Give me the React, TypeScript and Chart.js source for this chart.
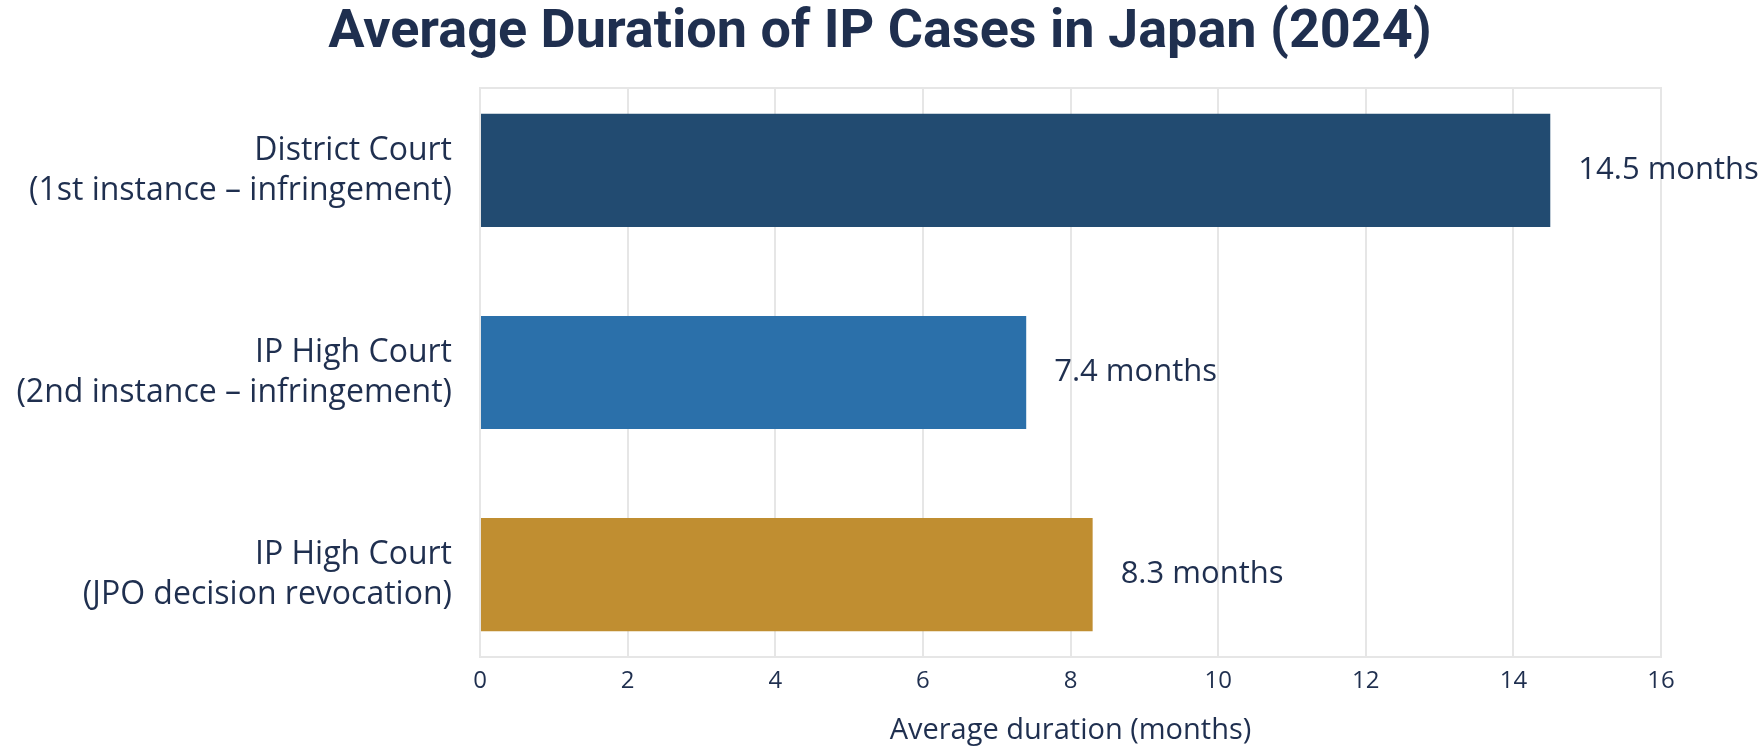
import React, { useEffect, useRef } from "react";
import { Chart, registerables, Plugin } from "chart.js";

Chart.register(...registerables);

// Data
const CATEGORIES: string[][] = [
  ["District Court", "(1st instance – infringement)"],
  ["IP High Court", "(2nd instance – infringement)"],
  ["IP High Court", "(JPO decision revocation)"],
];
const DURATIONS = [14.5, 7.4, 8.3];
const BAR_COLORS = ["#224b71", "#2b70aa", "#c08e31"];
const X_MIN = 0;
const X_MAX = 16;
const X_STEP = 2;

const TITLE = "Average Duration of IP Cases in Japan (2024)";
const TEXT = "#1f2f4f";
const GRID = "#e6e6e6";
const FONT = "'Open Sans', sans-serif";
const TITLE_FONT = "Roboto, sans-serif";

// light frame around the plot area
const framePlugin: Plugin = {
  id: "frame",
  beforeDatasetsDraw(chart) {
    const { ctx, chartArea } = chart;
    ctx.save();
    ctx.strokeStyle = GRID;
    ctx.lineWidth = 2;
    ctx.strokeRect(chartArea.left, chartArea.top, chartArea.right - chartArea.left, chartArea.bottom - chartArea.top);
    ctx.restore();
  },
};

// "xx months" next to each bar
const valueLabels: Plugin = {
  id: "valueLabels",
  afterDatasetsDraw(chart) {
    const { ctx } = chart;
    const meta = chart.getDatasetMeta(0);
    ctx.save();
    ctx.fillStyle = TEXT;
    ctx.font = `31px ${FONT}`;
    ctx.textAlign = "left";
    ctx.textBaseline = "middle";
    meta.data.forEach((bar: any, i) => {
      ctx.fillText(`${DURATIONS[i]} months`, bar.x + 28, bar.y);
    });
    ctx.restore();
  },
};

// pick a title size so the bold title spans about 1097px, like the reference
function fitTitleSize(): number {
  const c = document.createElement("canvas").getContext("2d");
  if (!c) return 52;
  c.font = `bold 100px ${TITLE_FONT}`;
  const w = c.measureText(TITLE).width;
  return Math.round((100 * 1097) / w);
}

const App: React.FC = () => {
  const canvasRef = useRef<HTMLCanvasElement | null>(null);

  useEffect(() => {
    document.body.style.margin = "0";
    if (!canvasRef.current) return;

    const titleSize = fitTitleSize();
    const titleTop = Math.max(0, Math.round(33 - titleSize / 2));

    const chart = new Chart(canvasRef.current, {
      type: "bar",
      data: {
        datasets: [
          {
            data: DURATIONS.map((v, i) => ({ x: v, y: i })),
            backgroundColor: BAR_COLORS,
            borderWidth: 0,
            categoryPercentage: 1,
            barPercentage: 0.56,
          },
        ],
      },
      options: {
        indexAxis: "y",
        responsive: false,
        animation: false,
        layout: { padding: 0 },
        plugins: {
          legend: { display: false },
          tooltip: { enabled: false },
          title: {
            display: true,
            text: TITLE,
            color: TEXT,
            font: { family: TITLE_FONT, weight: "bold", size: titleSize, lineHeight: 1 },
            padding: { top: titleTop, bottom: 88 - titleTop - titleSize },
          },
        },
        scales: {
          x: {
            type: "linear",
            min: X_MIN,
            max: X_MAX,
            grid: { color: GRID, lineWidth: 2, drawTicks: false },
            border: { display: false },
            ticks: { stepSize: X_STEP, padding: 10, color: TEXT, font: { family: FONT, size: 24 } },
            title: {
              display: true,
              text: "Average duration (months)",
              color: TEXT,
              font: { family: FONT, size: 29, lineHeight: 1.2 },
              padding: { top: 0, bottom: 0 },
            },
            afterFit: (s: any) => {
              s.height = 91;
            },
          },
          y: {
            type: "linear",
            reverse: true,
            offset: false,
            min: -0.408,
            max: 2.408,
            grid: { display: false, drawTicks: false, offset: false },
            border: { display: false },
            ticks: {
              stepSize: 1,
              includeBounds: false,
              autoSkip: false,
              padding: 28,
              color: TEXT,
              font: { family: FONT, size: 32, lineHeight: 1.25 },
              callback: (v: any) => CATEGORIES[v as number] ?? "",
            },
            afterFit: (s: any) => {
              s.width = 480;
            },
          },
          // empty right-hand strip that leaves room for the value labels
          yRight: {
            type: "linear",
            position: "right",
            grid: { display: false, drawTicks: false },
            border: { display: false },
            ticks: { display: false },
            afterFit: (s: any) => {
              s.width = 99;
            },
          },
        },
      },
      plugins: [framePlugin, valueLabels],
    });

    return () => chart.destroy();
  }, []);

  return (
    <div style={{ width: 1760, height: 748, background: "#fff" }}>
      <canvas ref={canvasRef} width={1760} height={748} />
    </div>
  );
};

export default App;
